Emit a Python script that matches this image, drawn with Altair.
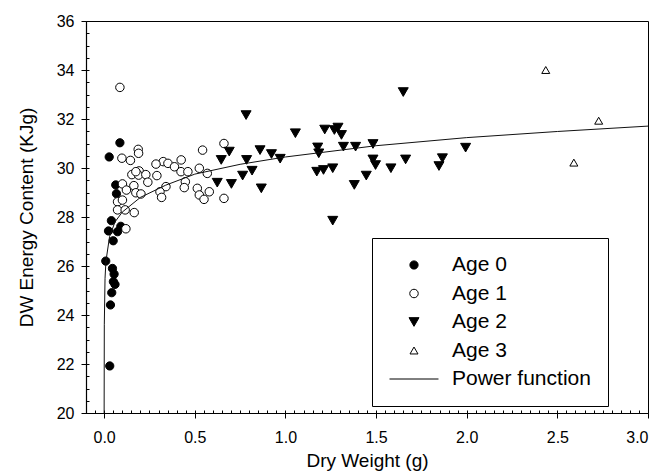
import altair as alt
import pandas as pd

# ---- data ----
age0_x = [0.087, 0.028, 0.064, 0.068, 0.040, 0.024, 0.074, 0.092, 0.050, 0.009,
          0.046, 0.055, 0.051, 0.060, 0.042, 0.035, 0.031]
age0_y = [31.03, 30.45, 29.31, 28.95, 27.85, 27.43, 27.40, 27.62, 27.03, 26.20,
          25.90, 25.67, 25.36, 25.25, 24.91, 24.41, 21.92]

age1_x = [0.087, 0.098, 0.145, 0.188, 0.190, 0.543, 0.661, 0.326, 0.286, 0.352,
          0.388, 0.425, 0.424, 0.462, 0.525, 0.569, 0.193, 0.153, 0.190, 0.230,
          0.291, 0.241, 0.101, 0.164, 0.448, 0.442, 0.341, 0.308, 0.123, 0.175,
          0.203, 0.317, 0.514, 0.525, 0.551, 0.580, 0.661, 0.074, 0.120, 0.166,
          0.074, 0.101, 0.116, 0.175]
age1_y = [33.29, 30.40, 30.31, 30.76, 30.60, 30.73, 31.00, 30.26, 30.16, 30.19,
          30.05, 30.33, 29.85, 29.85, 29.99, 29.78, 29.88, 29.73, 29.71, 29.73,
          29.69, 29.42, 29.35, 29.28, 29.44, 29.20, 29.24, 29.03, 29.10, 28.99,
          28.94, 28.80, 29.17, 28.90, 28.72, 29.03, 28.76, 28.62, 27.52, 28.18,
          28.29, 28.69, 28.29, 29.85]

age2_x = [0.783, 0.646, 0.690, 0.786, 0.816, 0.764, 0.860, 0.923, 0.971, 0.624,
          0.702, 0.867, 1.055, 1.217, 1.270, 1.178, 1.184, 1.173, 1.210, 1.261,
          1.261, 1.290, 1.309, 1.320, 1.387, 1.483, 1.380, 1.446, 1.483, 1.497,
          1.582, 1.663, 1.866, 1.847, 1.994, 1.650]
age2_y = [32.16, 30.33, 30.67, 30.33, 29.89, 29.69, 30.73, 30.57, 30.38, 29.40,
          29.35, 29.17, 31.42, 31.57, 31.55, 30.84, 30.60, 29.85, 29.92, 29.99,
          27.85, 31.65, 31.35, 30.87, 30.87, 30.98, 29.31, 29.69, 30.35, 30.12,
          29.99, 30.35, 30.40, 30.08, 30.83, 33.10]

age3_x = [2.436, 2.728, 2.591]
age3_y = [34.00, 31.93, 30.22]

# power-function curve, points
line_x = [0.00001, 0.001, 0.005, 0.01, 0.03, 0.06, 0.1, 0.2, 0.34, 0.5,
          0.75, 1.0, 1.5, 2.0, 2.5, 3.0]
line_y = [19.9, 23.6, 25.5, 26.2, 27.2, 27.8, 28.2, 28.8, 29.3, 29.75,
          30.15, 30.45, 30.91, 31.24, 31.49, 31.71]

categories = ["Age 0", "Age 1", "Age 2", "Age 3", "Power function"]

rows = []
for name, xs_, ys_ in [("Age 0", age0_x, age0_y), ("Age 1", age1_x, age1_y),
                       ("Age 2", age2_x, age2_y), ("Age 3", age3_x, age3_y)]:
    for a, b in zip(xs_, ys_):
        rows.append({"w": a, "e": b, "age": name})
pts = pd.DataFrame(rows)
line_df = pd.DataFrame({"w": line_x, "e": line_y})

FONT = "Liberation Sans"

xscale = alt.Scale(domain=[-0.1, 3.0], nice=False, zero=False)
yscale = alt.Scale(domain=[20, 36], nice=False, zero=False)

shape_scale = alt.Scale(domain=categories,
                        range=["circle", "circle", "triangle-down", "triangle-up", "stroke"])
fill_scale = alt.Scale(domain=categories,
                       range=["black", "white", "black", "white", "white"])
size_scale = alt.Scale(type="ordinal", domain=categories, range=[68, 72, 100, 64, 2400])

legend = alt.Legend(
    orient="none", legendX=286, legendY=217, padding=17,
    strokeColor="black", fillColor="white", cornerRadius=0,
    labelFont=FONT, labelFontSize=21, labelColor="black", labelOffset=13,
    rowPadding=7.5, clipHeight=20, symbolStrokeColor="black", symbolStrokeWidth=1,
)

major_x = alt.Axis(values=[0, 0.5, 1.0, 1.5, 2.0, 2.5, 3.0], format=".1f",
                   title="Dry Weight (g)", orient="bottom", grid=False,
                   tickSize=5, tickColor="black", domainColor="black",
                   labelFont=FONT, labelFontSize=16, labelColor="black", labelPadding=11,
                   titleFont=FONT, titleFontSize=19, titleFontWeight="normal",
                   titleColor="black", titlePadding=6)
major_y = alt.Axis(values=list(range(20, 37, 2)), title="DW Energy Content (KJg)",
                   orient="left", grid=False, tickSize=5, tickColor="black",
                   domainColor="black", labelFont=FONT, labelFontSize=16,
                   labelColor="black", labelPadding=7, titleFont=FONT,
                   titleFontSize=19, titleFontWeight="normal", titleColor="black",
                   titlePadding=20)

minor_x_vals = [round(-0.05 + 0.05 * i, 2) for i in range(62)]
minor_y_vals = [20 + 0.5 * i for i in range(33)]
minor_x = alt.Axis(values=minor_x_vals, orient="bottom", labels=False, title="",
                   domain=False, grid=False, tickSize=3, offset=-3, tickColor="black")
minor_y = alt.Axis(values=minor_y_vals, orient="left", labels=False, title="",
                   domain=False, grid=False, tickSize=3, offset=-3, tickColor="black")

points = alt.Chart(pts).mark_point(filled=True, stroke="black", strokeWidth=1,
                                   opacity=1, fillOpacity=1).encode(
    x=alt.X("w:Q", scale=xscale, axis=major_x),
    y=alt.Y("e:Q", scale=yscale, axis=major_y),
    shape=alt.Shape("age:N", scale=shape_scale, legend=legend, title=None),
    fill=alt.Fill("age:N", scale=fill_scale, title=None),
    size=alt.Size("age:N", scale=size_scale, title=None),
)

line = alt.Chart(line_df).mark_line(color="#111111", strokeWidth=1, clip=True).encode(
    x=alt.X("w:Q", scale=xscale, axis=minor_x),
    y=alt.Y("e:Q", scale=yscale, axis=minor_y),
)

chart = alt.layer(points, line).resolve_axis(x="independent", y="independent").properties(
    width=562, height=392, autosize="none",
    padding={"left": 78, "top": 13, "right": 5, "bottom": 62},
).configure_view(stroke="black", strokeWidth=1).configure_axis(domainWidth=1.2)

chart.save("out.html", embed_options={"renderer": "svg", "actions": False})
